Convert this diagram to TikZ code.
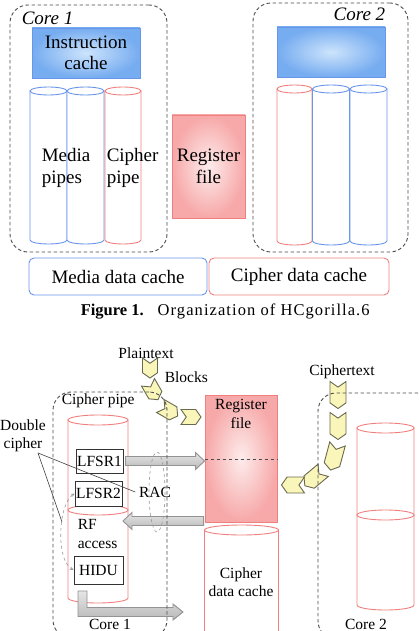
\documentclass[tikz,border=0pt]{standalone}
\usepackage{fontspec}
\setmainfont{Liberation Serif}
\usetikzlibrary{shapes.symbols,calc}

\definecolor{pinkline}{RGB}{240,128,128}
\definecolor{pinkfill}{RGB}{247,168,168}
\definecolor{pinkcore}{RGB}{253,236,236}
\definecolor{blueline}{RGB}{105,150,235}
\definecolor{bluefill}{RGB}{118,172,240}
\definecolor{bluecore}{RGB}{205,228,252}
\definecolor{chevfill}{RGB}{250,246,185}
\definecolor{chevline}{RGB}{105,105,80}

% drum: colour, centre x, half width, top y, bottom y, cap radius
\newcommand\drum[6]{%
  \filldraw[draw=#1, fill=white] (#2-#3,#4) -- (#2-#3,#5)
    arc[start angle=180, end angle=0, x radius=#3, y radius=#6] -- (#2+#3,#4) -- cycle;
  \filldraw[draw=#1, fill=white] (#2,#4) ellipse [x radius=#3, y radius=#6];
}

\tikzset{
  big/.style={font=\fontsize{19}{21.5}\selectfont},
  small/.style={font=\fontsize{15.5}{18.3}\selectfont},
  corebox/.style={draw=black!70, dash pattern=on 3.5pt off 2.5pt, rounded corners=18pt, inner sep=0pt},
  bluebox/.style={draw=blueline, inner color=bluecore, outer color=bluefill, inner sep=0pt, align=center},
  pinkbox/.style={draw=pinkline, inner color=pinkcore, outer color=pinkfill, inner sep=0pt, align=center},
  regbox/.style={draw=black!80, fill=white, inner sep=0pt},
  chev/.style={signal, signal to=east, signal from=west, signal pointer angle=110,
    draw=chevline, fill=chevfill, inner sep=0pt, minimum width=20pt, minimum height=15pt},
  grayarr/.style={draw=gray!85, top color=gray!20, bottom color=gray!55},
  graydash/.style={draw=gray!80, dashed, line width=0.6pt},
}

\begin{document}
\begin{tikzpicture}[x=1pt,y=-1pt,line width=0.9pt]
\clip (0,0) rectangle (419,631);
\fill[white] (0,0) rectangle (419,631);

% Figure 1
\node(core1)[corebox, minimum width=157pt, minimum height=247pt] at (88.5,128.5){};
\node(core2)[corebox, minimum width=155pt, minimum height=249pt] at (330.5,127.5){};
\node(c1lab)[big, font=\fontsize{19}{21.5}\selectfont\itshape, anchor=west] at (18,18){Core 1};
\node(c2lab)[big, font=\fontsize{19}{21.5}\selectfont\itshape, anchor=east] at (389,14){Core 2};

\node(icache)[bluebox, big, minimum width=108pt, minimum height=50pt] at (86,53){Instruction\\cache};
\node(icache2)[bluebox, minimum width=108pt, minimum height=50pt] at (331,52){};

\drum{blueline}{48.5}{18.5}{91}{240}{4}
\drum{blueline}{85.5}{18.5}{91}{240}{4}
\drum{pinkline}{123}{18}{91}{240}{4}
\node(mplab)[big, align=left, anchor=west] at (38,168){Media\\pipes};
\node(cplab)[big, align=left, anchor=west] at (103,168){Cipher\\pipe};

\drum{pinkline}{294.5}{17.5}{89}{241}{4}
\drum{blueline}{331}{18.5}{89}{241}{4}
\drum{blueline}{368.5}{18.5}{89}{241}{4}

\node(rf)[pinkbox, big, minimum width=73pt, minimum height=103pt] at (208.5,166.5){Register\\file};

\node(mdc)[draw=blueline, rounded corners=5pt, big, minimum width=178pt, minimum height=37pt] at (118,276.5){Media data cache};
\node(cdc)[draw=pinkline, rounded corners=5pt, big, minimum width=180pt, minimum height=37pt] at (299,276.5){Cipher data cache};

\node(cap)[font=\fontsize{16.5}{18}\selectfont, anchor=west] at (77,312)
  {\textbf{Figure 1.}\hspace{14pt}\addfontfeature{LetterSpace=6.5}Organization of HCgorilla.6};

% Figure 2
\drum{pinkline}{98}{30}{420}{510}{5}
\drum{pinkline}{98}{30}{510}{598}{5}
\drum{pinkline}{241.5}{37}{530}{690}{5}
\drum{pinkline}{385.5}{28.5}{428}{515}{5}
\drum{pinkline}{385.5}{28.5}{515}{605}{5}

\node(rf2)[pinkbox, minimum width=72pt, minimum height=127pt] at (241,458.5){};
\draw[black!70, dash pattern=on 3.5pt off 2.5pt] (rf2.west|-0,459) -- (rf2.east|-0,459);
\node(rflab)[small, align=center] at (241,414){Register\\file};
\node(dclab)[small, align=center] at (241,582){Cipher\\data cache};

\node(lfsr1)[regbox, small, minimum width=47pt, minimum height=24pt] at (99.5,461){LFSR1};
\node(lfsr2)[regbox, small, minimum width=47pt, minimum height=25pt] at (98.5,493.5){LFSR2};
\node(hidu)[regbox, small, minimum width=49pt, minimum height=28pt] at (98.5,570){HIDU};
\node(rfacc)[small, align=left, anchor=west] at (74,534){RF\\access};
\node(rac)[small] at (155,492){RAC};

% grey arrows
\coordinate(racin) at (123,521);
\coordinate(hout) at (82.5,591);
\coordinate(hend) at (183,612);
\draw[grayarr] let \p1=(lfsr1.east), \p2=(rf2.west) in
  (\x1+2pt,\y1-4.5pt) -- (\x2-9pt,\y1-4.5pt) -- (\x2-9pt,\y1-8.5pt) -- (\x2,\y1)
  -- (\x2-9pt,\y1+8.5pt) -- (\x2-9pt,\y1+4.5pt) -- (\x1+2pt,\y1+4.5pt) -- cycle;
\draw[grayarr] let \p1=(rf2.west|-racin), \p2=(racin) in
  (\x1-1pt,\y1-4.5pt) -- (\x2+9pt,\y1-4.5pt) -- (\x2+9pt,\y1-8.5pt) -- (\x2,\y1)
  -- (\x2+9pt,\y1+8.5pt) -- (\x2+9pt,\y1+4.5pt) -- (\x1-1pt,\y1+4.5pt) -- cycle;
\draw[grayarr] let \p1=(hout), \p2=(hend) in
  (\x1-4.5pt,\y1) -- (\x1-4.5pt,\y2-4.5pt) -- (\x2-10pt,\y2-4.5pt) -- (\x2-10pt,\y2-8pt)
  -- (\x2,\y2) -- (\x2-10pt,\y2+8pt) -- (\x2-10pt,\y2+4.5pt) -- (\x1+4.5pt,\y2+4.5pt)
  -- (\x1+4.5pt,\y1) -- cycle;

% plaintext blocks
\node(pt)[small] at (146,353){Plaintext};
\node(blk)[small, anchor=west] at (161,377){Blocks};
\node(p1)[chev, rotate=-90] at (150,368){};
\node(p2)[chev, rotate=-60] at (153,391){};
\node(p3)[chev, rotate=-30] at (169,411){};
\node(p4)[chev] at (191,417){};

% ciphertext blocks
\node(ct)[small] at (342,372){Ciphertext};
\node(q1)[chev, rotate=-90, minimum width=27pt, minimum height=16pt] at (338,395){};
\node(q2)[chev, rotate=-90, minimum width=27pt, minimum height=16pt] at (338,426){};
\node(q3)[chev, rotate=-105, minimum width=27pt, minimum height=16pt] at (334,457){};
\node(q4)[chev, rotate=-140, minimum width=24pt, minimum height=16pt] at (314,478){};
\node(q5)[chev, rotate=180, minimum width=23pt, minimum height=16pt] at (293,485){};

% cores
\node(core1b)[corebox, minimum width=114pt, minimum height=246pt] at (110,515){};
\node(core2b)[corebox, minimum width=130pt, minimum height=246pt] at (383,516){};
\node(cplab2)[small, anchor=west] at (58,401){Cipher pipe};
\node(k1lab)[small, anchor=north] at (110,615){Core 1};
\node(k2lab)[small, anchor=north] at (366,615){Core 2};

% double cipher
\node(dc)[small, align=center] at (23,436){Double\\cipher};
\coordinate(dcend) at (38,453);
\coordinate(dcfoot) at (62,522);
\draw[black!75, line width=0.6pt] (dcend) -- (rac.west);
\draw[black!75, line width=0.6pt] (dcend) -- (dcfoot);
\draw[graydash, <->, >=stealth] (lfsr2.west) .. controls (58,505) and (56,560) .. (hidu.west);
\draw[graydash] (157,492) ellipse [x radius=8, y radius=40];

\end{tikzpicture}
\end{document}
